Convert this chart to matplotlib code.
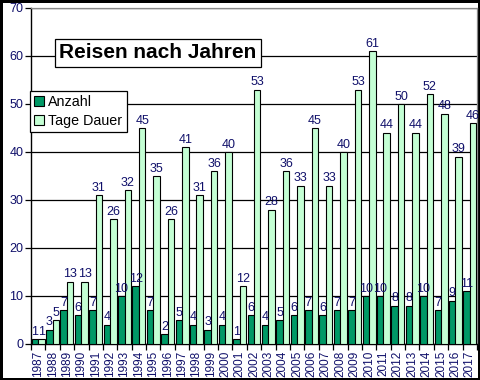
import matplotlib
matplotlib.use("Agg")
import matplotlib.pyplot as plt
import numpy as np

years = [str(y) for y in range(1987, 2018)]
anzahl = [1, 3, 7, 6, 7, 4, 10, 12, 7, 2, 5, 4, 3, 4, 1, 6, 4, 5, 6, 7,
          6, 7, 7, 10, 10, 8, 8, 10, 7, 9, 11]
tage_dauer = [1, 5, 13, 13, 31, 26, 32, 45, 35, 26, 41, 31, 36, 40, 12, 53,
              28, 36, 33, 45, 33, 40, 53, 61, 44, 50, 44, 52, 48, 39, 46]
series_names = ["Anzahl", "Tage Dauer"]
title = "Reisen nach Jahren"

plt.rcParams['font.family'] = ['Liberation Sans', 'DejaVu Sans']
navy = '#10106a'
dark = '#009966'
light = '#c4ffd4'

fig = plt.figure(figsize=(4.8, 3.8), dpi=100, edgecolor='black', linewidth=2.5)
ax = fig.add_axes([31/480, 36/380, 446/480, 336/380])

x = np.arange(len(years))
w = 0.45
b1 = ax.bar(x - w/2, anzahl, w, color=dark, edgecolor='black', linewidth=0.8,
            label=series_names[0], zorder=3)
b2 = ax.bar(x + w/2, tage_dauer, w, color=light, edgecolor='black', linewidth=0.8,
            label=series_names[1], zorder=3)
ax.bar_label(b1, padding=1, color=navy, fontsize=9)
ax.bar_label(b2, padding=1, color=navy, fontsize=9)

ax.set_ylim(0, 70)
ax.set_xlim(-0.5, len(years) - 0.5)
ax.set_yticks(range(0, 71, 10))
ax.yaxis.grid(True, color='black', linewidth=0.9, zorder=0)
ax.set_axisbelow(True)
ax.tick_params(axis='y', labelsize=9, labelcolor=navy, length=4, width=0.9, pad=1.5)
ax.set_xticks(x)
ax.set_xticklabels(years, rotation=90, fontsize=8.5, color=navy)
ax.set_xticks(np.arange(-0.5, len(years), 1), minor=True)
ax.tick_params(axis='x', which='major', length=0, pad=5)
ax.tick_params(axis='x', which='minor', length=4, width=0.9)
for s in ['top', 'right']:
    ax.spines[s].set_color('#888888')
    ax.spines[s].set_linewidth(0.9)
for s in ['left', 'bottom']:
    ax.spines[s].set_color('black')
    ax.spines[s].set_linewidth(1.0)

leg = ax.legend(loc='upper left', bbox_to_anchor=(-0.003, (344-91)/336),
                fontsize=10.3, frameon=True, fancybox=False, edgecolor='black',
                framealpha=1, handlelength=0.7, handleheight=0.7,
                handletextpad=0.3, borderpad=0.3, labelspacing=0.3,
                borderaxespad=0)
leg.get_frame().set_linewidth(0.9)
leg.set_zorder(5)

fig.text(158/480, 1 - 53/380, title, ha='center', va='center', fontsize=15,
         fontweight='bold', color='black', zorder=6,
         bbox=dict(boxstyle='square,pad=0.2', facecolor='white',
                   edgecolor='black', linewidth=0.9))

fig.savefig('out.png', dpi=100, edgecolor=fig.get_edgecolor())
